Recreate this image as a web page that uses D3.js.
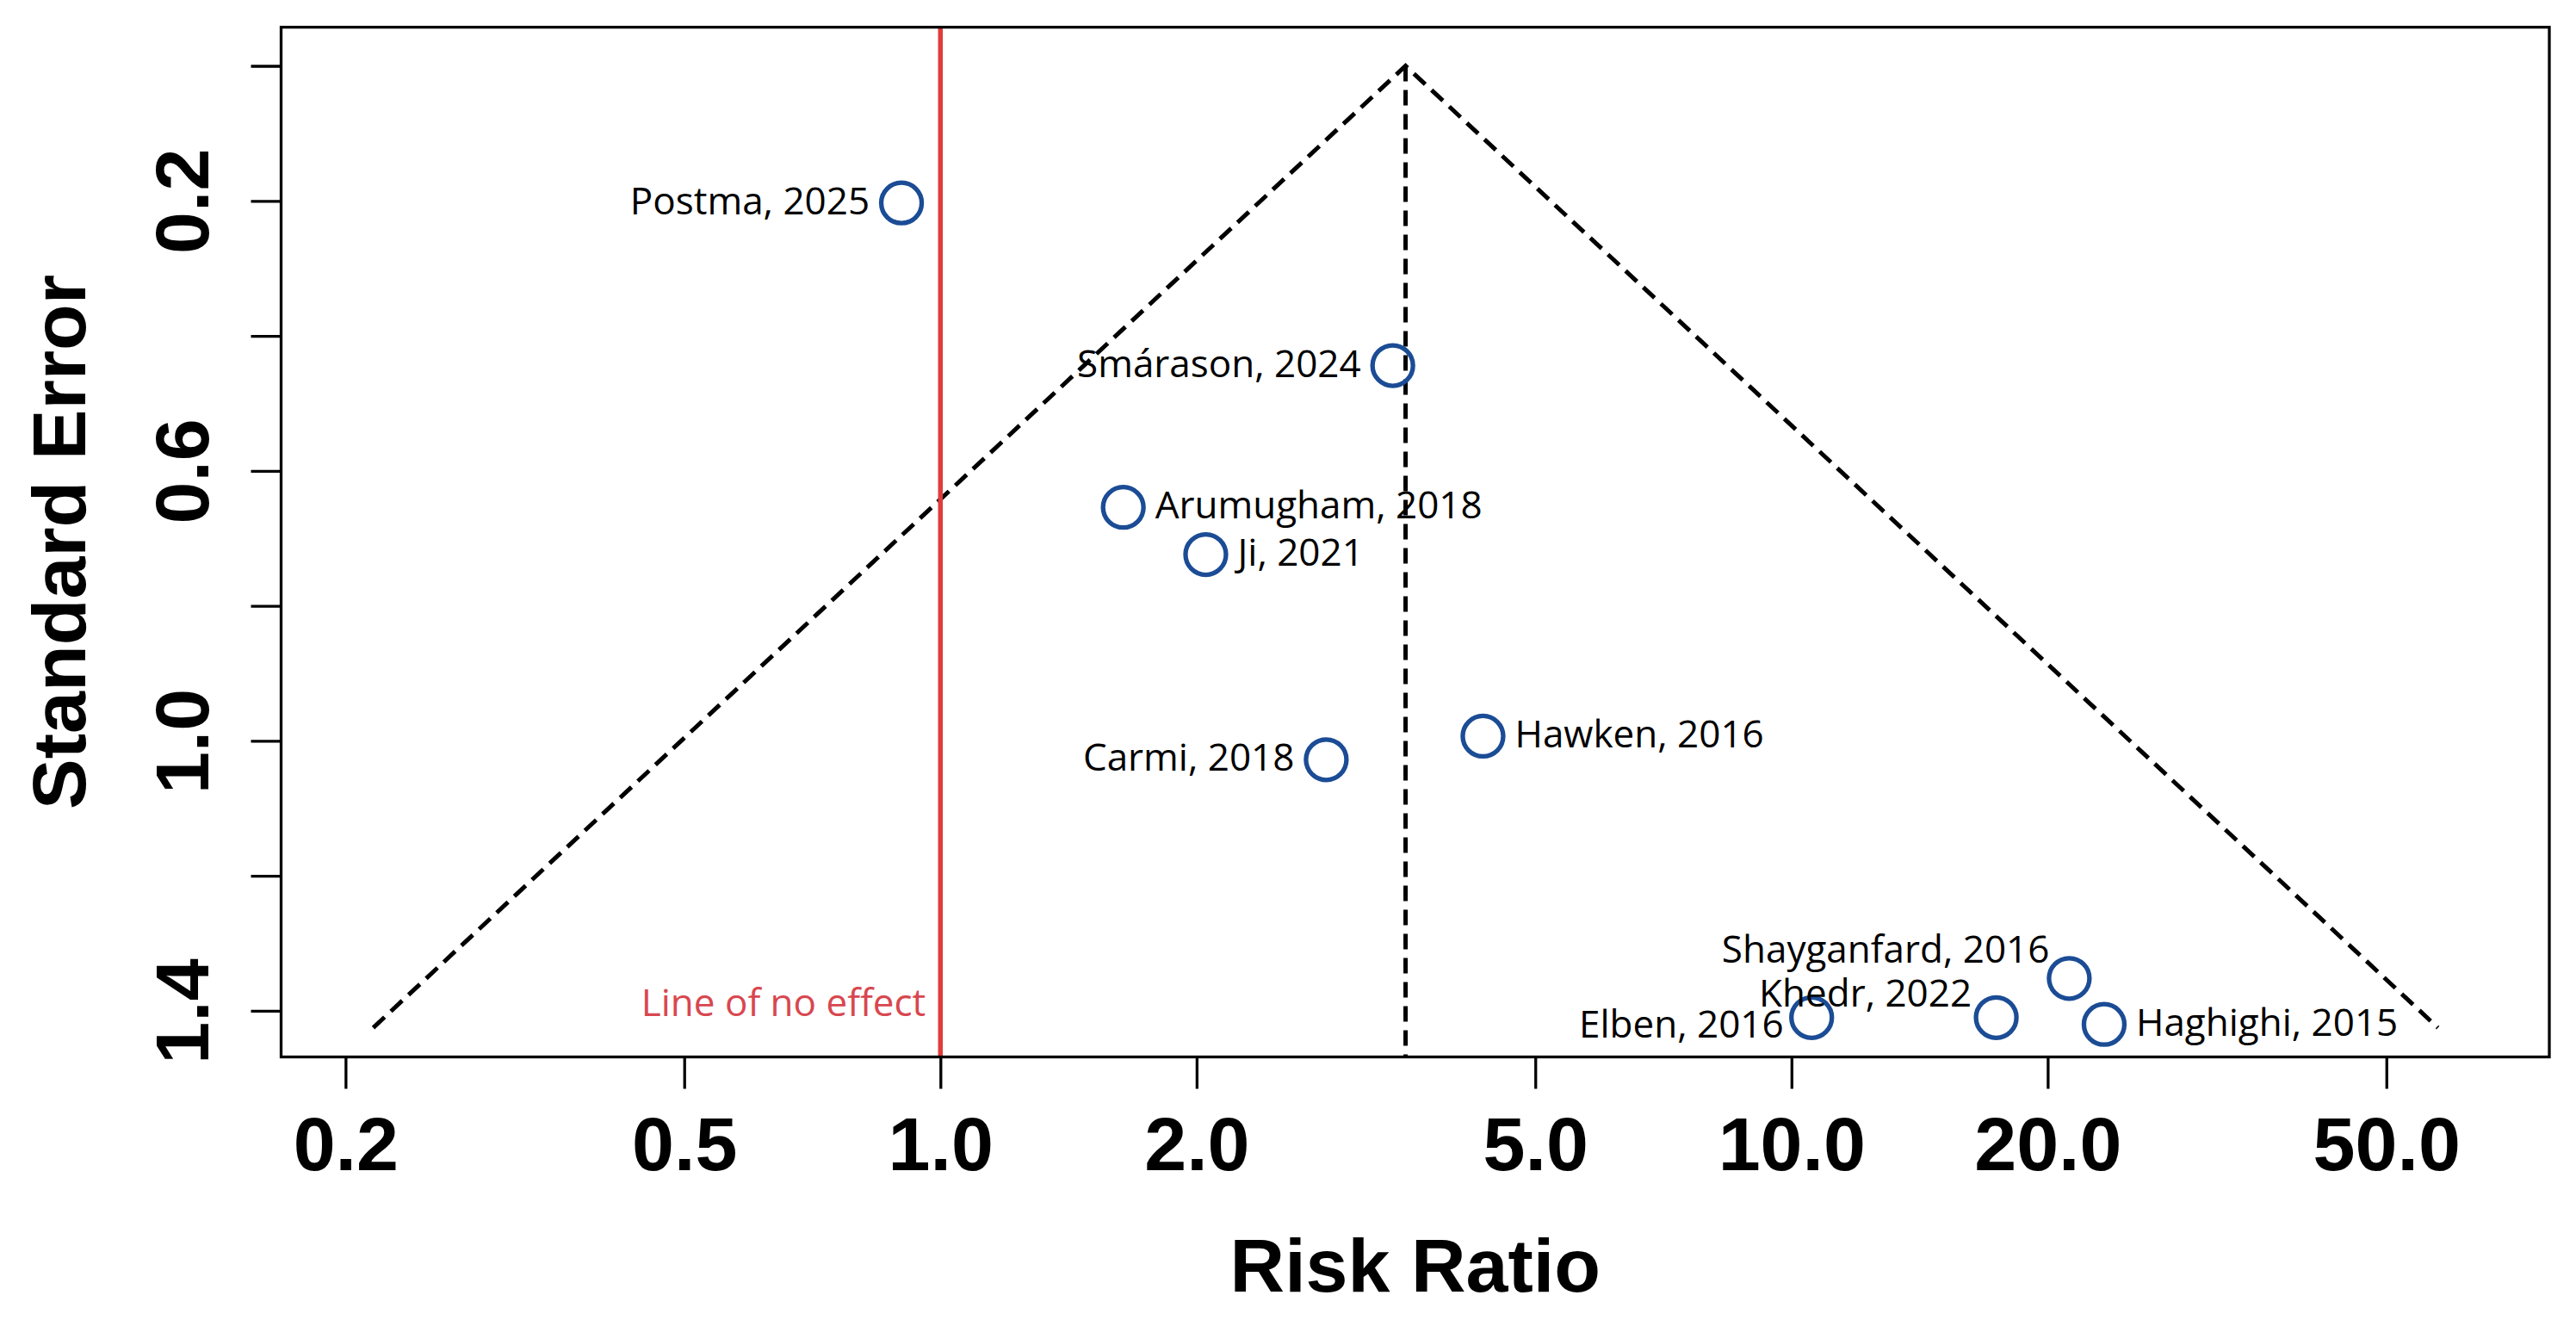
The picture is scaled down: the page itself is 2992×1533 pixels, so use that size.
<!DOCTYPE html>
<html>
<head>
<meta charset="utf-8">
<script src="https://cdn.jsdelivr.net/npm/d3@7"></script>
<style>
  body { margin: 0; background: #ffffff; }
  svg { display: block; }
</style>
</head>
<body>
<div id="chart"></div>
<script>

// studies in the funnel plot
let studies = ["Postma, 2025", "Smárason, 2024", "Arumugham, 2018", "Ji, 2021", "Carmi, 2018",
  "Hawken, 2016", "Elben, 2016", "Khedr, 2022", "Shayganfard, 2016", "Haghighi, 2015"];
let riskRatio = [0.90, 3.40, 1.64, 2.05, 2.84, 4.34, 10.56, 17.4, 21.2, 23.3];
let stdError = [0.203, 0.444, 0.654, 0.724, 1.028, 0.993, 1.410, 1.410, 1.352, 1.420];
let labelSide = ["left", "left", "right", "right", "left", "right", "left", "left", "left", "right"];

// pooled estimate and funnel depth
let pooledRR = 3.52;
let funnelMaxSE = 1.425;

let xTicks = [0.2, 0.5, 1, 2, 5, 10, 20, 50];
let yTicks = [0, 0.2, 0.4, 0.6, 0.8, 1.0, 1.2, 1.4];
let yLabelled = [0.2, 0.6, 1.0, 1.4];

const width = 2992, height = 1533;
const margin = {left: 326.5, right: width - 2961, top: 31.6, bottom: height - 1227.5};

const svg = d3.select("#chart").append("svg")
  .attr("width", width)
  .attr("height", height);

let x = d3.scaleLog()
  .domain([0.168, 77.7])
  .range([margin.left, width - margin.right]);
let y = d3.scaleLinear()
  .domain([-0.0573, 1.4683])
  .range([margin.top, height - margin.bottom]);

const boldFont = "'Liberation Sans', Arial, Helvetica, sans-serif";
const labelFont = "'Open Sans', 'Noto Sans', sans-serif";

// funnel lines
let lnEst = Math.log(pooledRR);
let funnel = [
  [Math.exp(lnEst - 1.96 * funnelMaxSE), funnelMaxSE],
  [pooledRR, 0],
  [Math.exp(lnEst + 1.96 * funnelMaxSE), funnelMaxSE]
];
svg.append("path")
  .attr("d", d3.line().x(d => x(d[0])).y(d => y(d[1]))(funnel))
  .attr("fill", "none")
  .attr("stroke", "#000")
  .attr("stroke-width", 5)
  .attr("stroke-dasharray", "18,10");
svg.append("line")
  .attr("x1", x(pooledRR)).attr("x2", x(pooledRR))
  .attr("y1", y(0)).attr("y2", y.range()[1])
  .attr("stroke", "#000")
  .attr("stroke-width", 5)
  .attr("stroke-dasharray", "18,10");

// line of no effect
svg.append("line")
  .attr("x1", x(1)).attr("x2", x(1))
  .attr("y1", y.range()[0]).attr("y2", y.range()[1])
  .attr("stroke", "#e03c3c")
  .attr("stroke-width", 5.5);
svg.append("text")
  .attr("x", x(1) - 17)
  .attr("y", y(1.4) + 6.5)
  .attr("text-anchor", "end")
  .attr("font-family", labelFont)
  .attr("font-size", 44)
  .attr("fill", "#d8474f")
  .text("Line of no effect");

// frame
svg.append("rect")
  .attr("x", margin.left)
  .attr("y", margin.top)
  .attr("width", width - margin.left - margin.right)
  .attr("height", height - margin.top - margin.bottom)
  .attr("fill", "none")
  .attr("stroke", "#000")
  .attr("stroke-width", 3.3);

// axes
let xAxis = svg.append("g")
  .attr("transform", `translate(0,${height - margin.bottom})`)
  .call(d3.axisBottom(x).tickValues(xTicks).tickSize(37).tickSizeOuter(0)
    .tickFormat(d => d.toFixed(1)));
xAxis.select(".domain").remove();
xAxis.selectAll(".tick line").attr("stroke", "#000").attr("stroke-width", 3.3);
xAxis.selectAll(".tick text")
  .attr("y", 131.5)
  .attr("dy", 0)
  .attr("fill", "#000")
  .attr("font-family", boldFont)
  .attr("font-weight", "bold")
  .attr("font-size", 88);

let yAxis = svg.append("g")
  .attr("transform", `translate(${margin.left},0)`)
  .call(d3.axisLeft(y).tickValues(yTicks).tickSize(35).tickSizeOuter(0)
    .tickFormat(d => yLabelled.includes(d) ? d.toFixed(1) : ""));
yAxis.select(".domain").remove();
yAxis.selectAll(".tick line").attr("stroke", "#000").attr("stroke-width", 3.3);
yAxis.selectAll(".tick text")
  .attr("x", 0)
  .attr("y", -84.5)
  .attr("dy", 0)
  .attr("text-anchor", "middle")
  .attr("transform", "rotate(-90)")
  .attr("fill", "#000")
  .attr("font-family", boldFont)
  .attr("font-weight", "bold")
  .attr("font-size", 88);

// axis titles
svg.append("text")
  .attr("x", (margin.left + width - margin.right) / 2)
  .attr("y", 1500)
  .attr("text-anchor", "middle")
  .attr("font-family", boldFont)
  .attr("font-weight", "bold")
  .attr("font-size", 88)
  .text("Risk Ratio");
svg.append("text")
  .attr("transform", `translate(99,${(margin.top + height - margin.bottom) / 2}) rotate(-90)`)
  .attr("text-anchor", "middle")
  .attr("font-family", boldFont)
  .attr("font-weight", "bold")
  .attr("font-size", 88)
  .text("Standard Error");

// points
let points = studies.map((s, i) => ({name: s, rr: riskRatio[i], se: stdError[i], side: labelSide[i]}));

svg.append("g").selectAll("circle")
  .data(points)
  .enter()
  .append("circle")
  .attr("cx", d => x(d.rr))
  .attr("cy", d => y(d.se))
  .attr("r", 23.5)
  .attr("fill", "none")
  .attr("stroke", "#1b4c95")
  .attr("stroke-width", 5.3);

// labels: default offset next to circle, a few nudged by hand to avoid overlap
let nudge = {
  "Elben, 2016": {dx: -32.5, dy: 23.5},
  "Khedr, 2022": {dx: -28.5, dy: -12.5},
  "Shayganfard, 2016": {dx: -23, dy: -18.5}
};
svg.append("g").selectAll("text")
  .data(points)
  .enter()
  .append("text")
  .attr("x", function(d){
    if(nudge[d.name]){ return x(d.rr) + nudge[d.name].dx; }
    return x(d.rr) + (d.side == "left" ? -37 : 37);
  })
  .attr("y", function(d){
    if(nudge[d.name]){ return y(d.se) + nudge[d.name].dy; }
    return y(d.se) + 13;
  })
  .attr("text-anchor", d => d.side == "left" ? "end" : "start")
  .attr("font-family", labelFont)
  .attr("font-size", 44)
  .attr("fill", "#000")
  .text(d => d.name);

</script>
</body>
</html>
